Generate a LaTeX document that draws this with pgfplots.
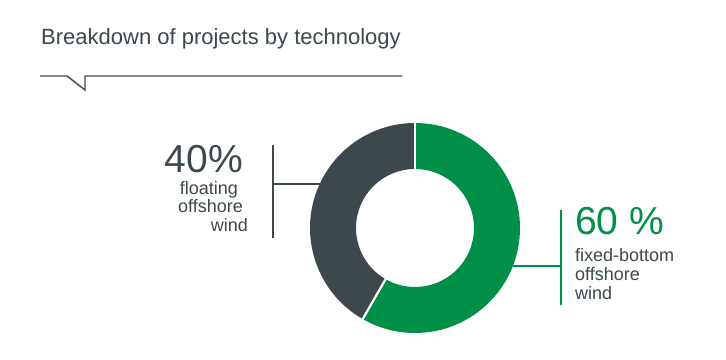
\documentclass[border=0pt]{standalone}
\usepackage{pgfplots}
\pgfplotsset{compat=1.18}
\usepackage{pgfplotstable}
\usepackage{fontspec}
\setmainfont{Liberation Sans}
\definecolor{cgreen}{RGB}{0,143,70}
\definecolor{cgray}{RGB}{60,72,76}
\pgfplotstableread{
label value
fixedbottom 58.3
floating 41.7
}\datatable
\begin{document}
\begin{tikzpicture}
\pgfplotstablegetelem{0}{value}\of\datatable
\pgfmathsetmacro{\ea}{90-3.6*\pgfplotsretval}
\begin{axis}[hide axis, x=1pt, y=1pt, xmin=0, xmax=726, ymin=0, ymax=359, clip=false, anchor=origin, at={(0pt,0pt)}]
% title
\node[anchor=base west, text=cgray, font=\fontsize{22}{26}\selectfont, inner sep=0pt] at (41,314) {Breakdown of projects by technology};
\draw[cgray, line width=1.4pt, line join=miter] (40,283) -- (67,283) -- (85,269) -- (85,283) -- (402,283);
% donut
\fill[cgreen] ([shift={(415pt,131pt)}]90:105pt) arc[start angle=90, end angle=\ea, radius=105pt] -- ([shift={(415pt,131pt)}]\ea:59pt) arc[start angle=\ea, end angle=90, radius=59pt] -- cycle;
\fill[cgray] ([shift={(415pt,131pt)}]\ea:105pt) arc[start angle=\ea, end angle=-270, radius=105pt] -- ([shift={(415pt,131pt)}]90:59pt) arc[start angle=90, end angle=\ea+360, radius=59pt] -- cycle;
\draw[white, line width=2.2pt] ([shift={(415pt,131pt)}]90:57pt) -- ([shift={(415pt,131pt)}]90:107pt);
\draw[white, line width=2.2pt] ([shift={(415pt,131pt)}]\ea:57pt) -- ([shift={(415pt,131pt)}]\ea:107pt);
% left bracket
\draw[cgray, line width=2pt] (273,214) -- (273,121);
\draw[cgray, line width=2pt] (273,175) -- (320,175);
% right bracket
\draw[cgreen, line width=2pt] (561,149) -- (561,54);
\draw[cgreen, line width=2pt] (513,93) -- (561,93);
% left labels
\node[anchor=base east, text=cgray, font=\fontsize{39}{44}\selectfont, inner sep=0pt] at (243,186) {40\%};
\node[anchor=base east, text=cgray, font=\fontsize{18}{20}\selectfont, inner sep=0pt] at (238,164) {floating};
\node[anchor=base east, text=cgray, font=\fontsize{18}{20}\selectfont, inner sep=0pt] at (243,146) {offshore};
\node[anchor=base east, text=cgray, font=\fontsize{18}{20}\selectfont, inner sep=0pt] at (248,127) {wind};
% right labels
\node[anchor=base west, text=cgreen, font=\fontsize{39}{44}\selectfont, inner sep=0pt] at (575,124) {60 \%};
\node[anchor=base west, text=cgray, font=\fontsize{18}{20}\selectfont, inner sep=0pt] at (575,97) {fixed-bottom};
\node[anchor=base west, text=cgray, font=\fontsize{18}{20}\selectfont, inner sep=0pt] at (575,78) {offshore};
\node[anchor=base west, text=cgray, font=\fontsize{18}{20}\selectfont, inner sep=0pt] at (575,59) {wind};
\end{axis}
\pgfresetboundingbox
\path[use as bounding box] (0,0) rectangle (726pt,359pt);
\end{tikzpicture}
\end{document}
